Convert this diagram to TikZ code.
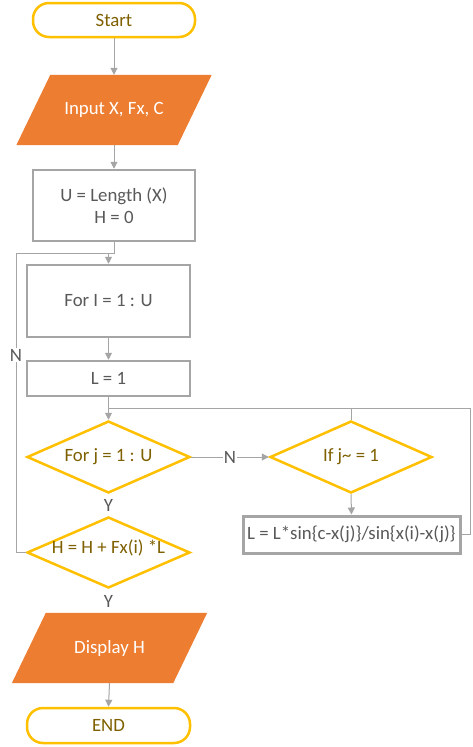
\documentclass[tikz,border=0pt]{standalone}
\usepackage{fontspec}
\setmainfont{Carlito}
\usetikzlibrary{shapes.geometric,arrows.meta,calc}
\definecolor{gold}{HTML}{FFC000}
\definecolor{goldtxt}{HTML}{7F6000}
\definecolor{orng}{HTML}{ED7D31}
\definecolor{gline}{HTML}{A5A5A5}
\definecolor{gtxt}{HTML}{595959}
\tikzset{
  x=1pt, y=-1pt,
  every node/.style={font=\fontsize{18.8}{22}\selectfont, inner sep=0pt},
  term/.style={draw=gold, line width=2.5pt, rounded corners=16pt, text=goldtxt, minimum height=34pt},
  procbox/.style={draw=gline, line width=2.5pt, text=gtxt, minimum width=162pt},
  decis/.style={diamond, draw=gold, line width=2.5pt, minimum width=163pt, minimum height=72pt},
  dtxt/.style={text=goldtxt},
  io/.style={minimum width=161pt, minimum height=70pt},
  conn/.style={draw=gline, line width=1pt},
  arr/.style={conn, -{Triangle[width=7pt,length=7pt]}},
  lbl/.style={text=gtxt, fill=white, inner sep=1pt},
  ylbl/.style={text=gtxt, inner sep=1pt}
}
\newcommand{\iofill}[1]{\fill[orng] ($(#1.north west)+(17,0)$) -- ($(#1.north east)+(17,0)$) -- ($(#1.south east)+(-17,0)$) -- ($(#1.south west)+(-17,0)$) -- cycle;}
\begin{document}
\begin{tikzpicture}
\useasboundingbox (0,0) rectangle (472,747);
\fill[white] (0,0) rectangle (472,747);

\node[term, minimum width=162pt] (start) at (114,20) {Start};

\node[io] (in) at (114,110) {};
\iofill{in}
\node[text=white] (intxt) at (114,110) {Input X, Fx, C};

\node[procbox, minimum height=71pt, align=center] (u) at (114,205.5) {U = Length (X)\\H = 0};
\node[procbox, minimum width=163pt, minimum height=72pt] (fori) at (108.5,301) {For I = 1 : U};
\node[procbox, minimum width=163pt, minimum height=35pt] (l1) at (108.5,378.5) {L = 1};
\node[decis] (fj) at (108.5,457) {};
\node[dtxt] (fjtxt) at (108.5,457) {For j = 1 : U};
\node[decis, minimum width=162pt] (ifj) at (351,457) {};
\node[dtxt] (ifjtxt) at (351,457) {If j\textasciitilde\ = 1};
\node[procbox, line width=3pt, minimum width=217pt, minimum height=37pt] (lb) at (351.5,534.5) {L = L*sin\{c-x(j)\}/sin\{x(i)-x(j)\}};
\node[decis, minimum height=71pt] (h) at (108.5,552.5) {};
\node[dtxt] (htxt) at (108.5,548) {H = H + Fx(i) *L};

\node[io] (disp) at (109.5,648) {};
\iofill{disp}
\node[text=white] (disptxt) at (109.5,648) {Display H};

\node[term, minimum width=163pt, minimum height=35pt] (end) at (108.5,725.5) {END};

\coordinate (j1) at (108.5,253);
\coordinate (nl) at (16,552.5);
\coordinate (lp) at (108.5,408);
\coordinate (rl) at (470,534.5);
\coordinate (ift) at (351,408);

\draw[arr] (start.south) -- (in.north);
\draw[arr] (in.south) -- (u.north);
\draw[arr] (u.south) |- (j1) -- (fori.north);
\draw[conn] (h.west) -- (nl) |- (j1);
\node[lbl] (nlab) at (16,355) {N};
\draw[arr] (fori.south) -- (l1.north);
\draw[arr] (l1.south) -- (fj.north);
\draw[conn] (lb.east) -- (rl) |- (lp);
\draw[conn] (ifj.north) -- (ift);
\draw[arr] (fj.east) -- (ifj.west) node[lbl, midway] (nlab2) {N};
\draw[arr] (ifj.south) -- (lb.north);
\node[ylbl] (y1) at (108.5,505) {Y};
\node[ylbl] (y2) at (108.5,601) {Y};
\draw[arr] (disp.south) -- (end.north);
\end{tikzpicture}
\end{document}
